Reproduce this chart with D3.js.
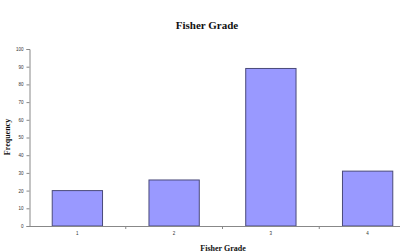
<!DOCTYPE html>
<html><head><meta charset="utf-8">
<script src="https://cdn.jsdelivr.net/npm/d3@7"></script>
<style>body{margin:0;background:#fff}svg{display:block}</style>
</head><body>
<svg id="c" width="400" height="252"></svg>
<script>
const categories = ["1","2","3","4"];
const values = [20, 26, 89, 31];
const yTicks = [0,10,20,30,40,50,60,70,80,90,100];
const title = "Fisher Grade";
const xTitle = "Fisher Grade";
const yTitle = "Frequency";

const svg = d3.select("#c");
const x = d3.scaleBand().domain(categories).range([29, 416]).paddingInner(0.48).paddingOuter(0.24);
const y = d3.scaleLinear().domain([0,100]).range([226, 49]);

// bars
svg.selectAll("rect.bar").data(values).join("rect")
  .attr("class","bar")
  .attr("x",(d,i)=>x(categories[i]))
  .attr("y",d=>y(d))
  .attr("width",x.bandwidth())
  .attr("height",d=>y(0)-y(d))
  .attr("fill","#9999ff")
  .attr("stroke","#4a4a7a")
  .attr("stroke-width",1);

// y axis
const yAxis = svg.append("g").attr("transform","translate(29.5,0)")
  .call(d3.axisLeft(y).tickValues(yTicks).tickSize(3).tickPadding(3));
yAxis.select(".domain").attr("stroke","#888");
yAxis.selectAll(".tick line").attr("stroke","#888");
yAxis.selectAll("text").attr("font-family","Liberation Sans, Arial, sans-serif").attr("font-size",4.5).attr("fill","#333");

// x axis baseline
svg.append("line").attr("x1",29).attr("x2",400).attr("y1",y(0)+0.5).attr("y2",y(0)+0.5).attr("stroke","#888");
// between-category ticks
const bounds = categories.slice(1).map((c,i)=>x(c) - x.step()*x.paddingInner()/2);
svg.selectAll("line.xt").data(bounds).join("line").attr("class","xt")
  .attr("x1",d=>d).attr("x2",d=>d).attr("y1",y(0)).attr("y2",y(0)+3).attr("stroke","#888");
// x labels
svg.selectAll("text.xl").data(categories).join("text").attr("class","xl")
  .attr("x",d=>x(d)+x.bandwidth()/2).attr("y",235)
  .attr("text-anchor","middle").attr("font-family","Liberation Sans, Arial, sans-serif")
  .attr("font-size",4.5).attr("fill","#333").text(d=>d);

// titles
svg.append("text").attr("x",207).attr("y",29).attr("text-anchor","middle")
  .attr("font-family","Liberation Serif, Times New Roman, serif").attr("font-weight","bold")
  .attr("font-size",11).attr("fill","#111").text(title);
svg.append("text").attr("x",223).attr("y",251).attr("text-anchor","middle")
  .attr("font-family","Liberation Serif, Times New Roman, serif").attr("font-weight","bold")
  .attr("font-size",8).attr("fill","#111").text(xTitle);
svg.append("text").attr("transform","translate(10,137) rotate(-90)").attr("text-anchor","middle")
  .attr("font-family","Liberation Serif, Times New Roman, serif").attr("font-weight","bold")
  .attr("font-size",8).attr("fill","#111").text(yTitle);
</script>
</body></html>
